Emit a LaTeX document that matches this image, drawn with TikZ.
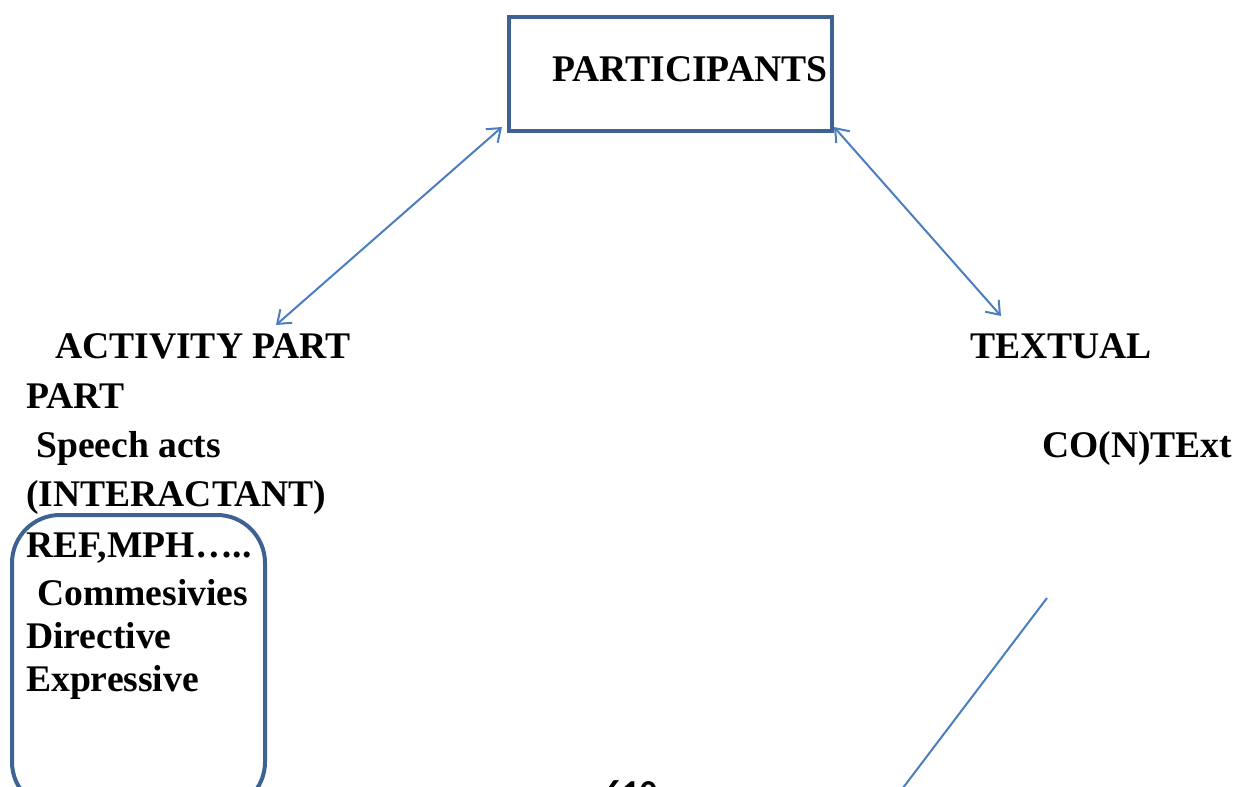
\documentclass[tikz,border=0pt]{standalone}
\usepackage{fontspec}
\setmainfont{Liberation Serif}
\newfontfamily\digitfont{Carlito}
\usetikzlibrary{arrows.meta}
\definecolor{boxblue}{HTML}{3E6392}
\definecolor{lineblue}{HTML}{4A7EBF}
\tikzset{
  lbl/.style={anchor=base west, inner sep=0pt, font=\fontsize{37.6}{44}\bfseries\selectfont},
  conn/.style={draw=lineblue, line width=2pt},
}
\begin{document}
\begin{tikzpicture}[x=1pt,y=-1pt]
\useasboundingbox (0,0) rectangle (1240,787);
% top box
\draw[boxblue, line width=4.5pt] (509,17) rectangle (832,131);
\node[lbl] (part) at (552,81) {PARTICIPANTS};
% rounded box
\draw[boxblue, line width=4pt, rounded corners=48pt] (12,515) rectangle (265,810);
% left texts
\node[lbl] (act) at (55,358) {ACTIVITY PART};
\node[lbl] (part2) at (26,408) {PART};
\node[lbl] (speech) at (36,457) {Speech acts};
\node[lbl] (inter) at (26,506) {(INTERACTANT)};
\node[lbl] (ref) at (26,557) {REF,MPH…..};
\node[lbl] (comm) at (37,605) {Commesivies};
\node[lbl] (dir) at (26,648) {Directive};
\node[lbl] (expr) at (26,691) {Expressive};
% right texts
\node[lbl] (text) at (970,358) {TEXTUAL};
\node[lbl] (cont) at (1042,457) {CO(N)TExt};
% page number
\node[anchor=base west, inner sep=0pt, font=\digitfont\fontsize{35}{40}\bfseries\selectfont] (pg) at (604,804) {610};
% connectors
\coordinate (a1) at (502,127);
\coordinate (a2) at (276,325);
\coordinate (b1) at (834,127);
\coordinate (b2) at (1001,316);
\coordinate (c1) at (1047,598);
\coordinate (c2) at (890,805);
\draw[conn, {Straight Barb[length=12pt,width=18pt]}-{Straight Barb[length=12pt,width=18pt]}] (a1) -- (a2);
\draw[conn, {Straight Barb[length=12pt,width=18pt]}-{Straight Barb[length=12pt,width=18pt]}] (b1) -- (b2);
\draw[conn] (c1) -- (c2);
\end{tikzpicture}
\end{document}
